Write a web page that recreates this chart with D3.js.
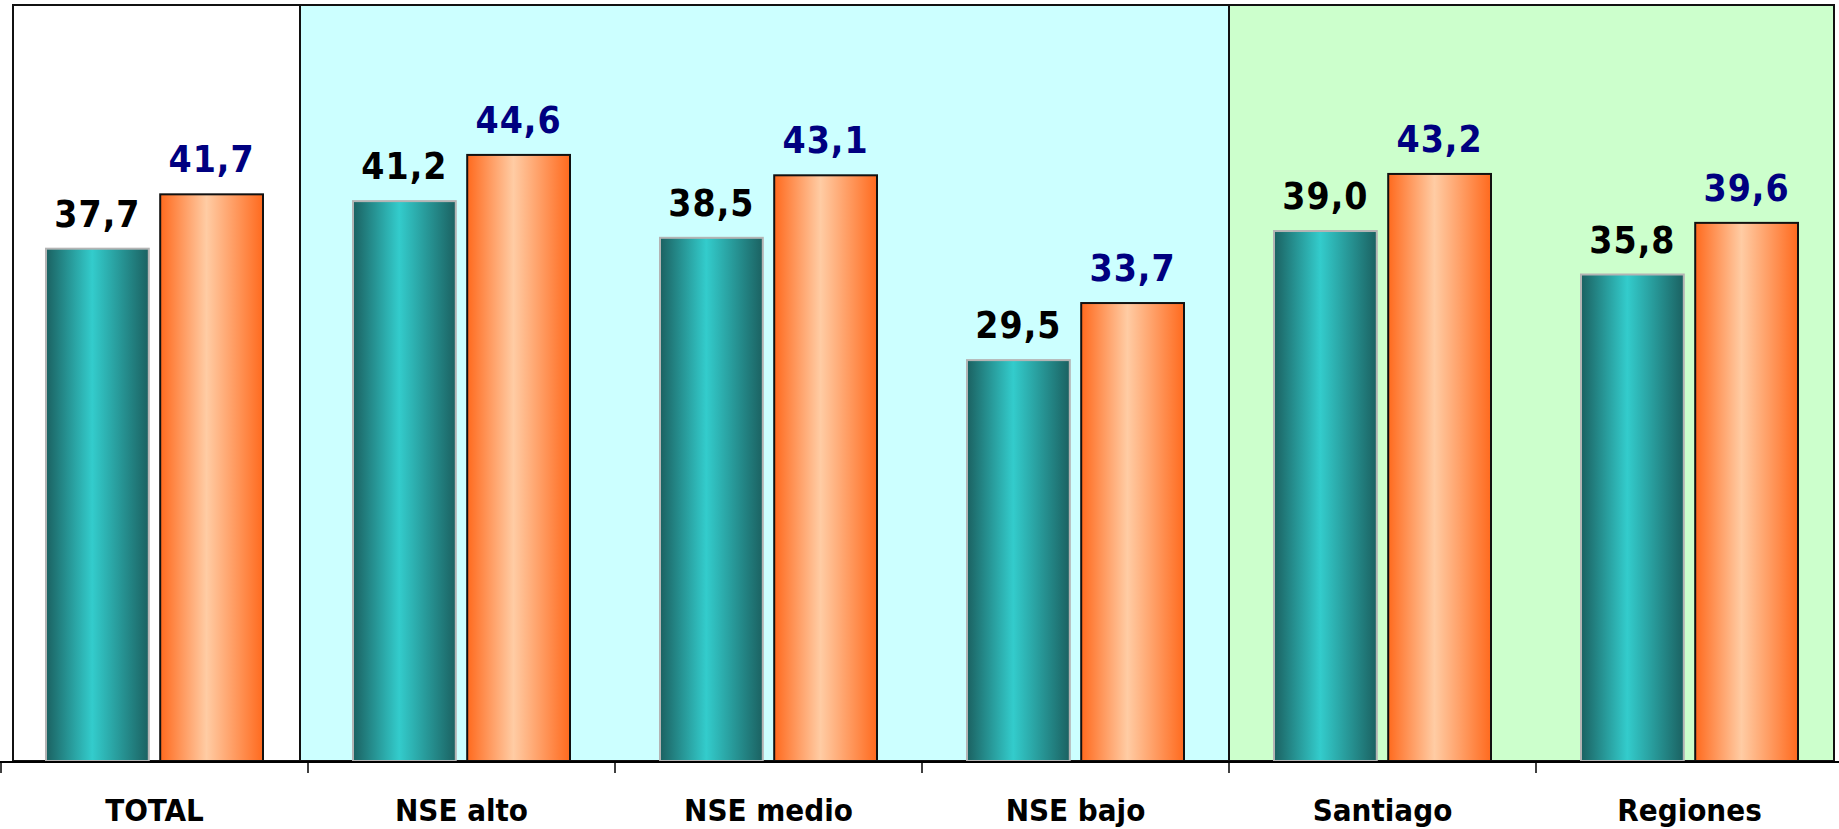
<!DOCTYPE html>
<html>
<head>
<meta charset="utf-8">
<script src="https://cdn.jsdelivr.net/npm/d3@7"></script>
<style>
  body { margin: 0; background: #fff; }
  svg { display: block; }
  text { font-family: "DejaVu Sans Condensed", "DejaVu Sans", sans-serif; font-weight: bold; }
</style>
</head>
<body>
<div id="chart"></div>
<script>
const categories = ['TOTAL', 'NSE alto', 'NSE medio', 'NSE bajo', 'Santiago', 'Regiones'];
const series = ['a', 'b'];
const valuesA = [37.7, 41.2, 38.5, 29.5, 39.0, 35.8];
const valuesB = [41.7, 44.6, 43.1, 33.7, 43.2, 39.6];
// background panels: first and last category of each block
const panelFrom = ['TOTAL', 'NSE alto', 'Santiago'];
const panelTo = ['TOTAL', 'NSE bajo', 'Regiones'];
const panelFill = ['#ffffff', '#ccffff', '#ccffcc'];

const width = 1839;
const height = 829;
const baseY = 761;

const svg = d3.select('#chart').append('svg')
    .attr('width', width)
    .attr('height', height);

const x0 = d3.scaleBand().domain(categories).range([1, 1843]);
const x1 = d3.scaleBand().domain(series).range([45, 262]).paddingInner(0.1);
const y = d3.scaleLinear().domain([0, 56]).range([baseY, 0]);

// gradients
const defs = svg.append('defs');
function grad(id, edge, mid) {
    const g = defs.append('linearGradient').attr('id', id)
        .attr('x1', '0%').attr('x2', '100%').attr('y1', '0%').attr('y2', '0%');
    g.append('stop').attr('offset', '0%').attr('stop-color', edge);
    g.append('stop').attr('offset', '45%').attr('stop-color', mid);
    g.append('stop').attr('offset', '100%').attr('stop-color', edge);
}
grad('gTeal', '#1b6161', '#33cccc');
grad('gOrange', '#ff6a1e', '#ffcca4');

// panels
const panelX = (i) => {
    let a = x0(panelFrom[i]);
    let b = x0(panelTo[i]) + x0.bandwidth();
    if (i === 0) { a += 12; b -= 8; }
    if (i === 1) { a -= 8; }
    if (i === 2) { b -= 9; }
    return [a, b];
};
svg.append('g').selectAll('rect')
    .data(panelFill)
    .join('rect')
    .attr('x', (d, i) => panelX(i)[0])
    .attr('y', 5)
    .attr('width', (d, i) => panelX(i)[1] - panelX(i)[0])
    .attr('height', baseY - 5)
    .attr('fill', d => d)
    .attr('stroke', '#111')
    .attr('stroke-width', 2);

// bars
const groups = svg.append('g').selectAll('g')
    .data(categories)
    .join('g')
    .attr('transform', d => `translate(${x0(d)},0)`);

const seriesData = (i) => [
    { key: 'a', v: valuesA[i] },
    { key: 'b', v: valuesB[i] },
];

groups.selectAll('rect')
    .data((d, i) => seriesData(i))
    .join('rect')
    .attr('x', d => x1(d.key))
    .attr('y', d => y(d.v))
    .attr('width', x1.bandwidth())
    .attr('height', d => baseY - y(d.v))
    .attr('fill', d => (d.key === 'a' ? 'url(#gTeal)' : 'url(#gOrange)'))
    .attr('stroke', d => (d.key === 'a' ? '#b4b4b4' : '#111'))
    .attr('stroke-width', 2);

groups.selectAll('text.val')
    .data((d, i) => seriesData(i))
    .join('text')
    .attr('class', 'val')
    .attr('x', d => x1(d.key) + x1.bandwidth() / 2)
    .attr('y', d => y(d.v) - 22)
    .attr('text-anchor', 'middle')
    .attr('font-size', 37)
    .attr('letter-spacing', 1)
    .attr('fill', d => (d.key === 'a' ? '#000' : '#000080'))
    .text(d => d3.format('.1f')(d.v).replace('.', ','));

// axis
const axis = svg.append('g');
axis.append('line')
    .attr('x1', 0).attr('x2', width)
    .attr('y1', baseY + 1).attr('y2', baseY + 1)
    .attr('stroke', '#000').attr('stroke-width', 2);
axis.selectAll('line.tick')
    .data(categories)
    .join('line')
    .attr('class', 'tick')
    .attr('x1', d => x0(d)).attr('x2', d => x0(d))
    .attr('y1', baseY + 1).attr('y2', baseY + 12)
    .attr('stroke', '#000').attr('stroke-width', 1.5);
axis.selectAll('text')
    .data(categories)
    .join('text')
    .attr('x', d => x0(d) + x0.bandwidth() / 2)
    .attr('y', 821)
    .attr('text-anchor', 'middle')
    .attr('font-size', 31)
    .attr('fill', '#000')
    .text(d => d);
</script>
</body>
</html>
